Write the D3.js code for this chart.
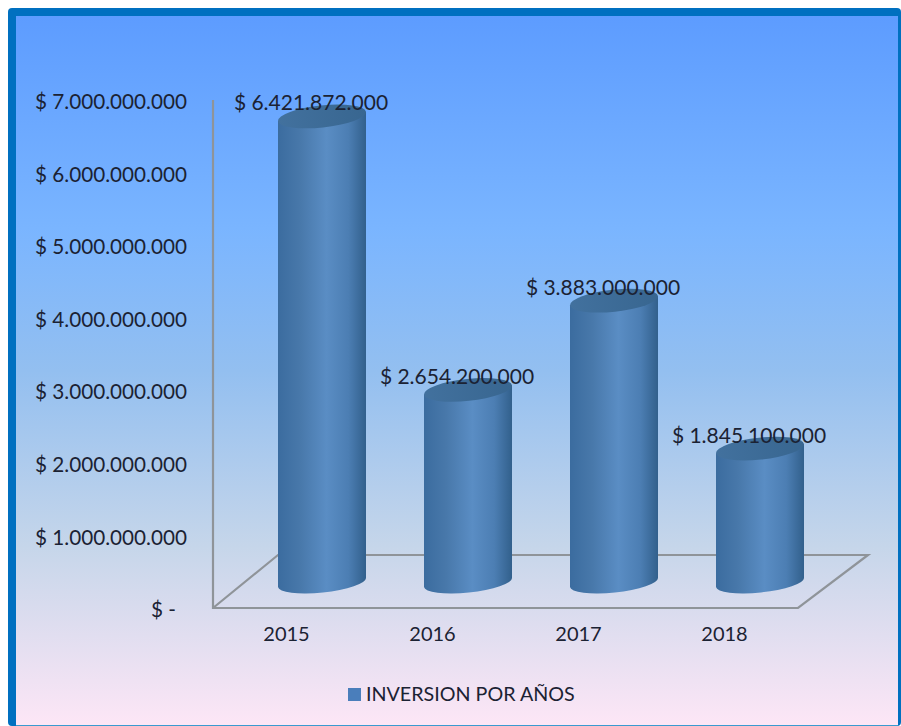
<!DOCTYPE html>
<html><head><meta charset="utf-8">
<script src="https://cdn.jsdelivr.net/npm/d3@7/dist/d3.min.js"></script>
<style>html,body{margin:0;padding:0;background:#fff;overflow:hidden}text{font-family:Lato,"Open Sans",sans-serif;fill:#1b2233}</style>
</head><body><svg id="c" width="901" height="726"></svg>
<script>
const years=["2015","2016","2017","2018"];
const inversion=[6421872000,2654200000,3883000000,1845100000];
const valueLabels=["$ 6.421.872.000","$ 2.654.200.000","$ 3.883.000.000","$ 1.845.100.000"];
const tickValues=[0,1e9,2e9,3e9,4e9,5e9,6e9,7e9];
const legendLabel="INVERSION POR AÑOS";
const W=901,H=726;
const svg=d3.select("#c");
const defs=svg.append("defs");
function grad(id,stops,vert){const g=defs.append("linearGradient").attr("id",id).attr("x1",0).attr("y1",0).attr("x2",vert?0:1).attr("y2",vert?1:0);
 stops.forEach(s=>g.append("stop").attr("offset",s[0]).attr("stop-color",s[1]));}
grad("bg",[[0,"#5d9cff"],[0.3,"#7ab5ff"],[0.5,"#93bff0"],[0.75,"#c6d6ea"],[1,"#fde6f6"]],true);
grad("cyl",[[0,"#3b6c9f"],[0.25,"#4878aa"],[0.55,"#5a8dc4"],[0.8,"#4c7eb3"],[1,"#32608c"]]);
grad("shade",[[0,"#4f86c8"],[1,"#4f86c8"]]);
grad("fade",[[0,"#fff"],[0.85,"#fff"],[1,"#000"]],true);
grad("cap",[[0,"#42719e"],[1,"#386690"]]);
svg.append("rect").attr("x",8).attr("y",8).attr("width",W-8).attr("height",H-8).attr("rx",4).attr("fill","#0070c0");
svg.append("rect").attr("x",16).attr("y",16).attr("width",882).attr("height",709).attr("fill","url(#bg)");
svg.append("rect").attr("x",16).attr("y",725).attr("width",882).attr("height",1).attr("fill","#3a9ad0");

const y=d3.scaleLinear().domain([0,7e9]).range([608,100]);
const x=d3.scalePoint().domain(years).range([322,760]);
const baseShift=-25.5, labelShift=-36;
const rx=44.2, ryB=10, ryT=11, tilt=-6;
const dx=44, dy=4.6;

// wall + floor
const ax="#8f9499";
const wall=[[213,100],[213,608],[798,608],[868,555],[278,555],[213,608]];
svg.append("path").attr("d",d3.line()(wall)).attr("fill","none").attr("stroke",ax).attr("stroke-width",2.2);

// axes
const yAxis=d3.axisLeft(y).tickValues(tickValues).tickSize(0).tickPadding(0)
 .tickFormat(d=>d===0?"$ -":"$ "+d3.format(",")(d).replace(/,/g,"."));
const gy=svg.append("g").attr("transform","translate(187,2)").call(yAxis);
gy.select(".domain").remove();
gy.selectAll("text").attr("font-size",20.7).attr("fill","#1b2233").each(function(d){if(d===0)d3.select(this).attr("dx",-11)});
const xAxis=d3.axisBottom(x).tickSize(0).tickPadding(0);
const gx=svg.append("g").attr("transform",`translate(${labelShift},627)`).call(xAxis);
gx.select(".domain").remove();
gx.selectAll("text").attr("font-size",20).attr("fill","#1b2233");

// cylinders
const data=years.map((k,i)=>({k,v:inversion[i],l:valueLabels[i]}));
const g=svg.selectAll(".b").data(data).join("g").attr("class","b");
g.append("path").attr("fill","url(#cyl)").attr("d",d=>{
 const c=x(d.k), b=y(0)+baseShift, t=y(d.v)+baseShift;
 return `M${c-dx},${t+dy}L${c-dx},${b+dy}A${rx},${ryB} ${tilt} 0 0 ${c+dx},${b-dy}L${c+dx},${t-dy}Z`;
});
g.append("ellipse").attr("fill","url(#cap)")
 .attr("rx",rx).attr("ry",ryT)
 .attr("transform",d=>`translate(${x(d.k)},${y(d.v)+baseShift}) rotate(${tilt})`);
g.append("text").attr("x",d=>x(d.k)-11).attr("y",d=>y(d.v)+baseShift-6).attr("text-anchor","middle").attr("font-size",21).text(d=>d.l);

// legend
svg.append("rect").attr("x",348).attr("y",688).attr("width",13).attr("height",13).attr("fill","#4a7ebb");
svg.append("text").attr("x",366).attr("y",701).attr("font-size",19.7).text(legendLabel);
</script></body></html>
